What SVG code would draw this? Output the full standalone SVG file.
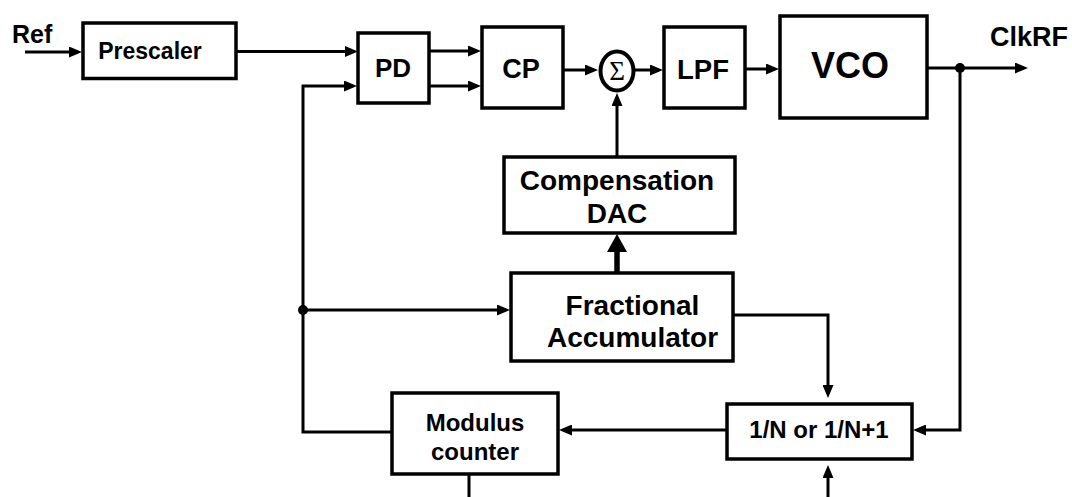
<svg xmlns="http://www.w3.org/2000/svg" width="1072" height="497" viewBox="0 0 1072 497">
<style>
.box{fill:#fff;stroke:#000;stroke-width:3.5}
.ln{fill:none;stroke:#000;stroke-width:3}
.lbl{font-family:"Liberation Sans",Arial,sans-serif;font-weight:bold;fill:#000;text-anchor:middle}
</style>
<defs>
<marker id="ah" markerUnits="userSpaceOnUse" markerWidth="13" markerHeight="11" refX="9" refY="5.5" orient="auto">
<path d="M0,0 L13,5.5 L0,11 z" fill="#000"/>
</marker>
<marker id="ahb" markerUnits="userSpaceOnUse" markerWidth="18" markerHeight="20" refX="8" refY="10" orient="auto">
<path d="M0,0 L18,10 L0,20 z" fill="#000"/>
</marker>
</defs>
<rect width="1072" height="497" fill="#fff"/>
<g id="connectors">
<path class="ln" d="M25,52 H78" marker-end="url(#ah)"/>
<path class="ln" d="M236,51.5 H354" marker-end="url(#ah)"/>
<path class="ln" d="M429,51 H477" marker-end="url(#ah)"/>
<path class="ln" d="M429,86 H477" marker-end="url(#ah)"/>
<path class="ln" d="M392,432 H303 V86 H353" marker-end="url(#ah)"/>
<path class="ln" d="M303,310 H506" marker-end="url(#ah)"/>
<circle cx="303" cy="310" r="5" fill="#000"/>
<path class="ln" d="M563,70 H594" marker-end="url(#ah)"/>
<path class="ln" d="M635,70 H659" marker-end="url(#ah)"/>
<path class="ln" d="M745,69 H775" marker-end="url(#ah)"/>
<path class="ln" d="M927,68 H1024" marker-end="url(#ah)"/>
<path class="ln" d="M960,68 V430 H917" marker-end="url(#ah)"/>
<circle cx="960" cy="68" r="5" fill="#000"/>
<path class="ln" d="M617,157 V97" marker-end="url(#ah)"/>
<path fill="none" stroke="#000" stroke-width="5.5" d="M617,273 V244" marker-end="url(#ahb)"/>
<path class="ln" d="M733,315 H828 V394" marker-end="url(#ah)"/>
<path class="ln" d="M727,430 H563" marker-end="url(#ah)"/>
<path class="ln" d="M469,474 V497"/>
<path class="ln" d="M828,497 V469" marker-end="url(#ah)"/>
</g>
<text class="lbl" x="12" y="43" font-size="25" style="text-anchor:start">Ref</text>
<text class="lbl" x="1068" y="46" font-size="27" style="text-anchor:end">ClkRF</text>
<g id="prescaler">
<rect class="box" x="83" y="23" width="153" height="55.5"/>
<text class="lbl" x="150" y="58.5" font-size="23">Prescaler</text>
</g>
<g id="pd">
<rect class="box" x="358" y="33" width="71" height="70"/>
<text class="lbl" x="393" y="77" font-size="26">PD</text>
</g>
<g id="cp">
<rect class="box" x="482" y="27" width="81" height="81"/>
<text class="lbl" x="521" y="78" font-size="27">CP</text>
</g>
<g id="sum">
<ellipse cx="617" cy="71" rx="16.5" ry="19.5" fill="#fff" stroke="#000" stroke-width="4"/>
<text x="617" y="80" font-size="27" font-family="'Liberation Serif','Times New Roman',serif" text-anchor="middle">Σ</text>
</g>
<g id="lpf">
<rect class="box" x="664" y="27" width="81" height="81"/>
<text class="lbl" x="703" y="79" font-size="27.5">LPF</text>
</g>
<g id="vco">
<rect class="box" x="780" y="16" width="147" height="102"/>
<text class="lbl" x="850" y="78" font-size="36">VCO</text>
</g>
<g id="compdac">
<rect class="box" x="504" y="157" width="231" height="76"/>
<text class="lbl" x="617" y="190" font-size="28">Compensation</text>
<text class="lbl" x="617" y="223" font-size="28">DAC</text>
</g>
<g id="fracacc">
<rect class="box" x="511" y="273" width="222" height="88"/>
<text class="lbl" x="632.5" y="315" font-size="28">Fractional</text>
<text class="lbl" x="632.5" y="347" font-size="28">Accumulator</text>
</g>
<g id="modcounter">
<rect class="box" x="392" y="393" width="166" height="81"/>
<text class="lbl" x="475" y="431" font-size="24">Modulus</text>
<text class="lbl" x="475" y="460" font-size="24">counter</text>
</g>
<g id="divider">
<rect class="box" x="727" y="404" width="185" height="55"/>
<text class="lbl" x="819" y="438" font-size="24">1/N or 1/N+1</text>
</g>
</svg>
